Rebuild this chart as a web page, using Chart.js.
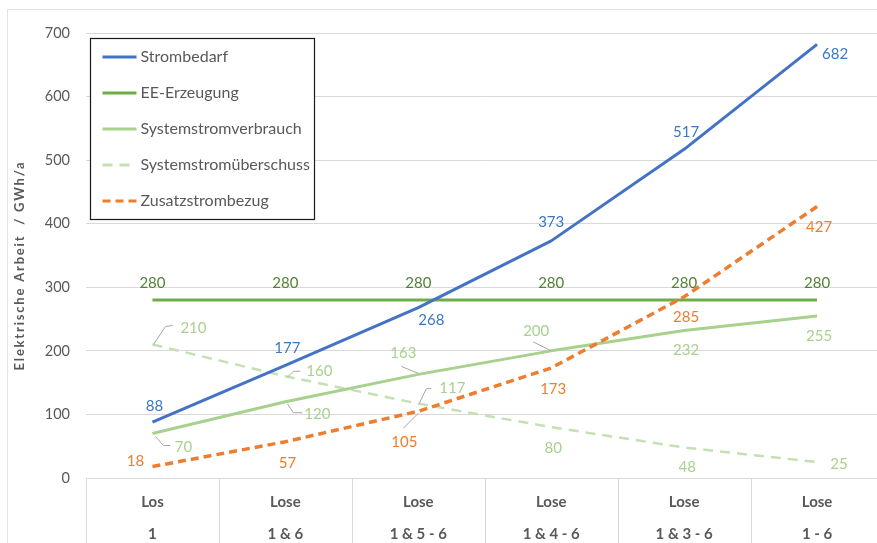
<!DOCTYPE html>
<html lang="de">
<head>
<meta charset="utf-8">
<title>Elektrische Arbeit je Losvariante</title>
<script src="https://cdn.jsdelivr.net/npm/chart.js@4/dist/chart.umd.min.js"></script>
<style>
  html, body { margin: 0; padding: 0; background: #ffffff; overflow: hidden; }
  #wrap { width: 890px; height: 543px; position: relative; }
</style>
</head>
<body>
<div id="wrap"><canvas id="chart" width="890" height="543"></canvas></div>
<script>
// Losvarianten (zweizeilige Kategorien)
const categories = [
  ["Los", "1"],
  ["Lose", "1 & 6"],
  ["Lose", "1 & 5 - 6"],
  ["Lose", "1 & 4 - 6"],
  ["Lose", "1 & 3 - 6"],
  ["Lose", "1 - 6"]
];

// Werte in GWh/a
const strombedarf            = [88, 177, 268, 373, 517, 682];
const eeErzeugung            = [280, 280, 280, 280, 280, 280];
const systemstromverbrauch   = [70, 120, 163, 200, 232, 255];
const systemstromueberschuss = [210, 160, 117, 80, 48, 25];
const zusatzstrombezug       = [18, 57, 105, 173, 285, 427];

// Y-Achse
const yMin = 0;
const yMax = 700;
const yStep = 100;
const yTitle = "Elektrische Arbeit  / GWh/a";

const FONT = "Lato, 'Open Sans', 'DejaVu Sans', sans-serif";
const GREY_TEXT = "#595959";
const GRID = "#d9d9d9";

// Lage der Wertbeschriftungen relativ zum Punkt [dx, dy] und optionale Hinweislinien
const labelLayout = {
  strombedarf: {
    color: "#3a78c6",
    offsets: [[2, -16], [2, -17], [13, 13], [0, -19], [2, -17], [18, 10]],
    leaders: []
  },
  eeErzeugung: {
    color: "#548235",
    offsets: [[0, -17], [0, -17], [0, -17], [0, -17], [0, -17], [0, -17]],
    leaders: []
  },
  systemstromverbrauch: {
    color: "#a9d18e",
    offsets: [[31, 14], [32, 12], [-15, -21], [-15, -20], [2, 20], [2, 20]],
    leaders: [
      [[3, 3], [11, 12], [18, 12]],
      [[2, 2], [8, 11], [17, 11]],
      [[0, -1], [-17, -8]],
      [[0, 0], [-18, -9]],
      null,
      null
    ]
  },
  systemstromueberschuss: {
    color: "#a9d18e",
    offsets: [[41, -16], [34, -5], [34, -15], [2, 21], [3, 20], [22, 2]],
    leaders: [
      [[1, 0], [13, -18], [20, -19]],
      [[2, 1], [8, -5], [15, -5]],
      [[1, 0], [8, -15], [13, -15]],
      null,
      null,
      null
    ]
  },
  zusatzstrombezug: {
    color: "#ed7d31",
    offsets: [[-17, -5], [2, 21], [-14, 31], [2, 21], [2, 20], [2, 21]],
    leaders: [null, null, [[0, 2], [-15, 17]], null, null, null]
  }
};

// Rahmen des Diagramms
const framePlugin = {
  id: "frame",
  beforeDraw(chart) {
    const ctx = chart.ctx;
    ctx.save();
    ctx.fillStyle = "#ffffff";
    ctx.fillRect(0, 0, chart.width, chart.height);
    ctx.strokeStyle = "#e4e4e4";
    ctx.lineWidth = 1;
    ctx.strokeRect(7.5, 9.5, chart.width, chart.height);
    ctx.restore();
  }
};

// Trennlinien der Kategorietabelle unter der Achse
const tablePlugin = {
  id: "categoryTable",
  afterDraw(chart) {
    const x = chart.scales.x;
    const ctx = chart.ctx;
    const n = chart.data.labels.length;
    ctx.save();
    ctx.strokeStyle = GRID;
    ctx.lineWidth = 1;
    for (let i = 0; i <= n; i++) {
      const px = Math.round(x.getPixelForValue(i - 0.5)) + 0.5;
      ctx.beginPath();
      ctx.moveTo(px, x.top);
      ctx.lineTo(px, x.bottom);
      ctx.stroke();
    }
    ctx.restore();
  }
};

// Gesperrter, gedrehter Achsentitel der Y-Achse
const axisTitlePlugin = {
  id: "yAxisTitle",
  afterDraw(chart) {
    const ctx = chart.ctx;
    ctx.save();
    ctx.translate(19.5, 265.5);
    ctx.rotate(-Math.PI / 2);
    ctx.font = "bold 13px " + FONT;
    ctx.letterSpacing = "1.8px";
    ctx.fillStyle = GREY_TEXT;
    ctx.textAlign = "center";
    ctx.textBaseline = "middle";
    ctx.fillText(yTitle, 0, 0);
    ctx.restore();
  }
};

// Wertbeschriftungen mit Hinweislinien
const valueLabelPlugin = {
  id: "valueLabels",
  afterDatasetsDraw(chart) {
    const ctx = chart.ctx;
    ctx.save();
    ctx.font = "15px " + FONT;
    ctx.textAlign = "center";
    ctx.textBaseline = "middle";
    chart.data.datasets.forEach((ds, di) => {
      const layout = labelLayout[ds.key];
      const meta = chart.getDatasetMeta(di);
      meta.data.forEach((pt, i) => {
        const leader = layout.leaders[i];
        if (leader) {
          ctx.strokeStyle = "#a6a6a6";
          ctx.lineWidth = 1;
          ctx.setLineDash([]);
          ctx.beginPath();
          leader.forEach((p, k) => {
            if (k === 0) ctx.moveTo(pt.x + p[0], pt.y + p[1]);
            else ctx.lineTo(pt.x + p[0], pt.y + p[1]);
          });
          ctx.stroke();
        }
        const off = layout.offsets[i];
        ctx.fillStyle = layout.color;
        ctx.fillText(String(ds.data[i]), pt.x + off[0], pt.y + off[1]);
      });
    });
    ctx.restore();
  }
};

// Legende im Diagrammbereich
const boxLegendPlugin = {
  id: "boxLegend",
  afterDraw(chart) {
    const ctx = chart.ctx;
    const area = chart.chartArea;
    const left = area.left + 4.5;
    const top = area.top + 5.5;
    const w = 224, h = 181;
    ctx.save();
    ctx.fillStyle = "#ffffff";
    ctx.fillRect(left, top, w, h);
    ctx.strokeStyle = "#1a1a1a";
    ctx.lineWidth = 1.2;
    ctx.strokeRect(left, top, w, h);
    ctx.font = "16px " + FONT;
    ctx.textAlign = "left";
    ctx.textBaseline = "middle";
    chart.data.datasets.forEach((ds, i) => {
      const y = top + 18.5 + i * 36;
      ctx.strokeStyle = ds.borderColor;
      ctx.lineWidth = 3;
      ctx.setLineDash(ds.borderDash || []);
      ctx.beginPath();
      ctx.moveTo(left + 12, y);
      ctx.lineTo(left + 46, y);
      ctx.stroke();
      ctx.setLineDash([]);
      ctx.fillStyle = GREY_TEXT;
      ctx.fillText(ds.label, left + 50, y);
    });
    ctx.restore();
  }
};

const lineDefaults = {
  fill: false,
  tension: 0,
  pointRadius: 0,
  pointHoverRadius: 0,
  borderCapStyle: "butt",
  borderJoinStyle: "round"
};

new Chart(document.getElementById("chart"), {
  type: "line",
  data: {
    labels: categories,
    datasets: [
      Object.assign({}, lineDefaults, {
        key: "strombedarf", label: "Strombedarf", data: strombedarf,
        borderColor: "#4472c4", borderWidth: 3, order: 0
      }),
      Object.assign({}, lineDefaults, {
        key: "eeErzeugung", label: "EE-Erzeugung", data: eeErzeugung,
        borderColor: "#70ad47", borderWidth: 3, order: 2
      }),
      Object.assign({}, lineDefaults, {
        key: "systemstromverbrauch", label: "Systemstromverbrauch", data: systemstromverbrauch,
        borderColor: "#a9d18e", borderWidth: 3, order: 3
      }),
      Object.assign({}, lineDefaults, {
        key: "systemstromueberschuss", label: "Systemstromüberschuss", data: systemstromueberschuss,
        borderColor: "#c5e0b4", borderWidth: 2.5, borderDash: [10, 7], order: 4
      }),
      Object.assign({}, lineDefaults, {
        key: "zusatzstrombezug", label: "Zusatzstrombezug", data: zusatzstrombezug,
        borderColor: "#ed7d31", borderWidth: 3.5, borderDash: [8, 5], order: 1
      })
    ]
  },
  options: {
    responsive: false,
    devicePixelRatio: 1,
    animation: false,
    events: [],
    layout: { padding: { left: 0, right: 6.5, top: 33, bottom: 0 } },
    plugins: {
      legend: { display: false },
      tooltip: { enabled: false },
      title: { display: false }
    },
    scales: {
      x: {
        type: "category",
        offset: true,
        grid: { display: false, offset: true },
        border: { display: true, color: GRID, width: 1 },
        ticks: {
          color: GREY_TEXT,
          font: { family: FONT, size: 15, weight: "bold", lineHeight: 32 / 15 },
          padding: 0,
          maxRotation: 0,
          autoSkip: false
        },
        afterFit(scale) { scale.height = 65; }
      },
      y: {
        min: yMin,
        max: yMax,
        grid: { color: GRID, lineWidth: 1, drawTicks: false },
        border: { display: false },
        ticks: {
          stepSize: yStep,
          color: GREY_TEXT,
          font: { family: FONT, size: 14.5 },
          padding: 16
        },
        title: { display: false },
        afterFit(scale) { scale.width = 86; }
      }
    }
  },
  plugins: [framePlugin, tablePlugin, axisTitlePlugin, valueLabelPlugin, boxLegendPlugin]
});
</script>
</body>
</html>
